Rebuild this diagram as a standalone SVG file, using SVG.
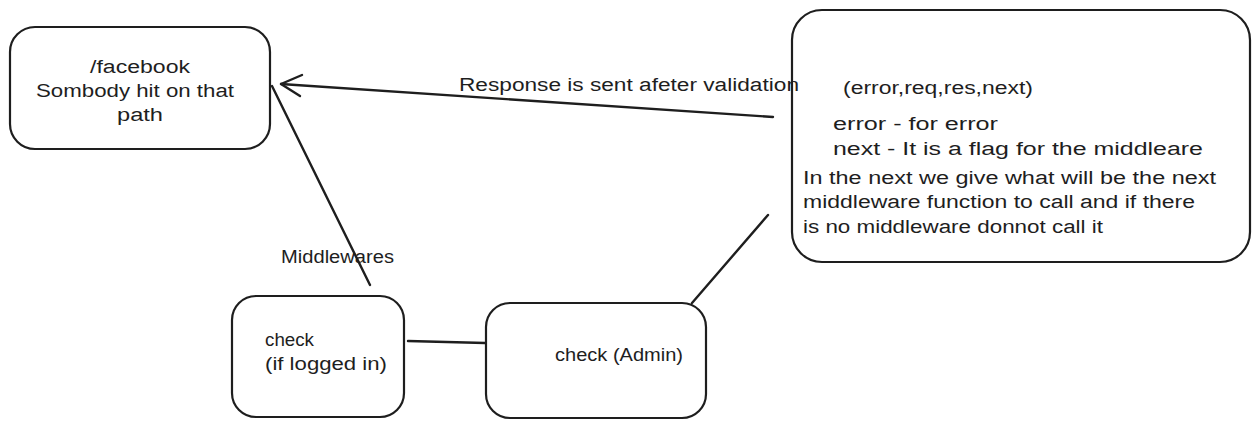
<svg xmlns="http://www.w3.org/2000/svg" width="1257" height="428" viewBox="0 0 1257 428">
<style>
.box{fill:none;stroke:#1e1e1e;stroke-width:2.2}
.ln{fill:none;stroke:#1e1e1e;stroke-width:2.4;stroke-linecap:round}
text{font-family:"Liberation Sans",Arial,sans-serif;font-size:18px;fill:#1e1e1e}
.c{text-anchor:middle}
</style>
<rect width="1257" height="428" fill="#fff"/>
<g id="connectors">
<path class="ln" d="M773 117 L281 84"/>
<path class="ln" d="M281 84 L302 75 M281 84 L300 96"/>
<path class="ln" d="M272 86 L370 285"/>
<path class="ln" d="M408 341 L485 343"/>
<path class="ln" d="M692 303 L768 215"/>
<text x="459" y="91" textLength="340" lengthAdjust="spacingAndGlyphs">Response is sent afeter validation</text>
<text x="281" y="263" textLength="113" lengthAdjust="spacingAndGlyphs">Middlewares</text>
</g>
<g id="facebook">
<rect class="box" x="10" y="27" width="260" height="122" rx="25"/>
<text class="c" x="140" y="73" textLength="100" lengthAdjust="spacingAndGlyphs">/facebook</text>
<text class="c" x="135" y="97" textLength="198" lengthAdjust="spacingAndGlyphs">Sombody hit on that</text>
<text class="c" x="140" y="121" textLength="46" lengthAdjust="spacingAndGlyphs">path</text>
</g>
<g id="error-handler">
<rect class="box" x="792" y="10" width="458" height="252" rx="30"/>
<text x="843" y="94" textLength="190" lengthAdjust="spacingAndGlyphs">(error,req,res,next)</text>
<text x="833" y="130" textLength="165" lengthAdjust="spacingAndGlyphs">error - for error</text>
<text x="833" y="155" textLength="370" lengthAdjust="spacingAndGlyphs">next - It is a flag for the middleare</text>
<text x="803" y="184" textLength="413" lengthAdjust="spacingAndGlyphs">In the next we give what will be the next</text>
<text x="803" y="208" textLength="392" lengthAdjust="spacingAndGlyphs">middleware function to call and if there</text>
<text x="803" y="233" textLength="300" lengthAdjust="spacingAndGlyphs">is no middleware donnot call it</text>
</g>
<g id="check-login">
<rect class="box" x="232" y="296" width="172" height="121" rx="24"/>
<text x="265" y="346" textLength="49" lengthAdjust="spacingAndGlyphs">check</text>
<text x="265" y="370" textLength="122" lengthAdjust="spacingAndGlyphs">(if logged in)</text>
</g>
<g id="check-admin">
<rect class="box" x="486" y="303" width="220" height="115" rx="24"/>
<text x="555" y="361" textLength="128" lengthAdjust="spacingAndGlyphs">check (Admin)</text>
</g>
</svg>
